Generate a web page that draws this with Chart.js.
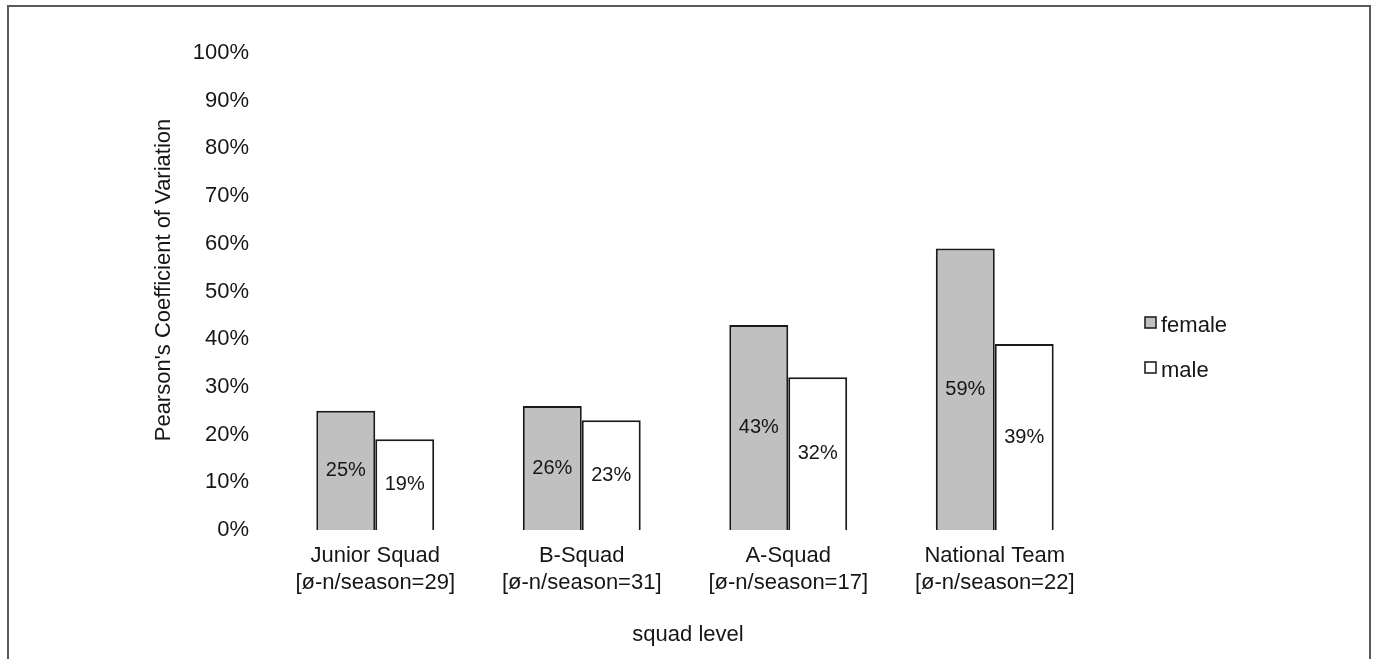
<!DOCTYPE html>
<html>
<head>
<meta charset="utf-8">
<script src="https://cdn.jsdelivr.net/npm/chart.js@4"></script>
<style>
  html, body { margin: 0; padding: 0; background: #fff; }
  canvas { display: block; }
</style>
</head>
<body>
<canvas id="cv" width="1375" height="659"></canvas>
<script>
// Squad levels with average sample size per season
const squads = ['Junior Squad', 'B-Squad', 'A-Squad', 'National Team'];
const sampleSizes = [29, 31, 17, 22];

// Pearson's coefficient of variation (%) by sex
const female = [25, 26, 43, 59];
const male = [19, 23, 32, 39];

const yTicks = [0, 10, 20, 30, 40, 50, 60, 70, 80, 90, 100];

const FONT = "'Liberation Sans', Arial, sans-serif";
const TEXT = '#161616';

const categoryLabels = squads.map((s, i) => [s, '[ø-n/season=' + sampleSizes[i] + ']']);

// Frame, axis titles, value labels and the legend
const decorations = {
  id: 'decorations',
  beforeDraw(chart) {
    const ctx = chart.ctx;
    ctx.save();
    ctx.fillStyle = '#fff';
    ctx.fillRect(0, 0, chart.width, chart.height);
    ctx.strokeStyle = '#5a5a5a';
    ctx.lineWidth = 2;
    ctx.strokeRect(8, 6, 1362, 700);
    ctx.restore();
  },
  afterDatasetsDraw(chart) {
    const ctx = chart.ctx;
    const area = chart.chartArea;
    ctx.save();
    ctx.fillStyle = TEXT;
    ctx.textAlign = 'center';
    ctx.textBaseline = 'middle';

    // value labels centred in each bar
    ctx.font = '20px ' + FONT;
    chart.data.datasets.forEach((ds, di) => {
      chart.getDatasetMeta(di).data.forEach((bar, i) => {
        const y = (bar.y + bar.base) / 2;
        ctx.fillText(ds.data[i] + '%', bar.x, y);
      });
    });

    ctx.font = '22px ' + FONT;
    // y-axis title
    ctx.save();
    ctx.translate(164, 280);
    ctx.rotate(-Math.PI / 2);
    ctx.fillText("Pearson's Coefficient of Variation", 0, 0);
    ctx.restore();

    // x-axis title
    ctx.fillText('squad level', (area.left + area.right) / 2 + 3, 635);

    // legend
    ctx.textAlign = 'left';
    ctx.textBaseline = 'alphabetic';
    const items = chart.data.datasets.map(ds => ({ label: ds.label, fill: ds.backgroundColor }));
    items.forEach((it, k) => {
      const base = 332 + k * 45;
      ctx.fillStyle = it.fill;
      ctx.fillRect(1145, base - 15, 11, 11);
      ctx.strokeStyle = '#222';
      ctx.lineWidth = 1.6;
      ctx.strokeRect(1145, base - 15, 11, 11);
      ctx.fillStyle = TEXT;
      ctx.fillText(it.label, 1161, base);
    });
    ctx.restore();
  }
};

new Chart(document.getElementById('cv'), {
  type: 'bar',
  data: {
    labels: categoryLabels,
    datasets: [
      {
        label: 'female',
        data: female,
        backgroundColor: '#c0c0c0',
        borderColor: '#1a1a1a',
        borderWidth: 2,
        categoryPercentage: 0.571,
        barPercentage: 1.0
      },
      {
        label: 'male',
        data: male,
        backgroundColor: '#ffffff',
        borderColor: '#1a1a1a',
        borderWidth: 2,
        categoryPercentage: 0.571,
        barPercentage: 1.0
      }
    ]
  },
  options: {
    responsive: false,
    animation: false,
    layout: { padding: { left: 0, right: 277, top: 53, bottom: 0 } },
    plugins: {
      legend: { display: false },
      tooltip: { enabled: false }
    },
    scales: {
      x: {
        grid: { display: false, drawTicks: false },
        border: { display: false },
        ticks: {
          color: TEXT,
          font: { family: FONT, size: 22, lineHeight: 1.2 },
          padding: 13,
          maxRotation: 0,
          autoSkip: false
        },
        afterFit(scale) { scale.height = 129; }
      },
      y: {
        min: 0,
        max: 100,
        grid: { display: false, drawTicks: false },
        border: { display: false },
        afterBuildTicks(scale) { scale.ticks = yTicks.map(v => ({ value: v })); },
        ticks: {
          color: TEXT,
          font: { family: FONT, size: 22 },
          padding: 23,
          callback: v => v + '%'
        },
        afterFit(scale) { scale.width = 272; }
      }
    }
  },
  plugins: [decorations]
});
</script>
</body>
</html>
